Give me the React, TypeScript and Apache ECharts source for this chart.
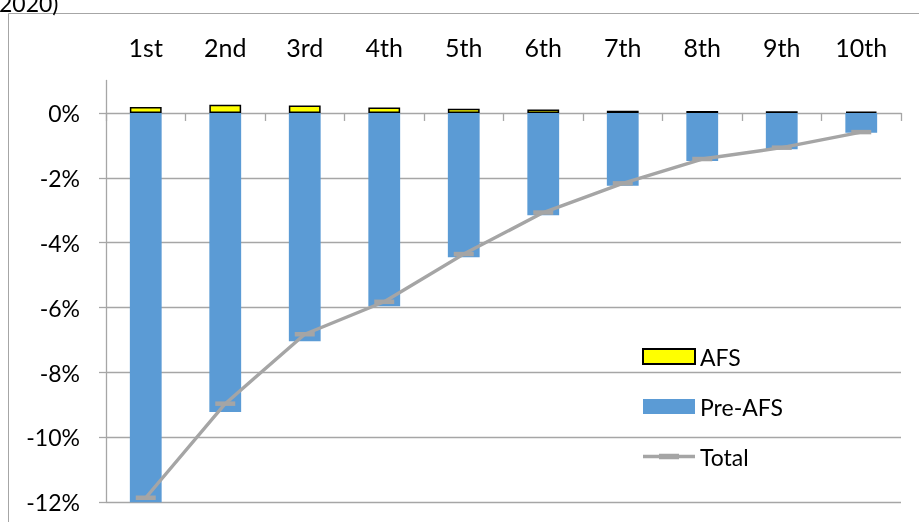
import React, { useEffect, useRef } from 'react';
import * as echarts from 'echarts';

const categories = ['1st', '2nd', '3rd', '4th', '5th', '6th', '7th', '8th', '9th', '10th'];
const afs = [0.18, 0.25, 0.23, 0.17, 0.13, 0.11, 0.07, 0.06, 0.05, 0.04];
const preAfs = [-12.0, -9.22, -7.04, -5.96, -4.45, -3.15, -2.24, -1.48, -1.12, -0.61];
const total = [-11.86, -8.96, -6.82, -5.82, -4.35, -3.07, -2.17, -1.42, -1.07, -0.59];
const yTicks = [-12, -10, -8, -6, -4, -2, 0];
const titleTail = '2020)';

export default function App() {
  const ref = useRef<HTMLDivElement>(null);
  useEffect(() => {
    const chart = echarts.init(ref.current!, null, { renderer: 'svg' });
    const font = 'Lato, "Open Sans", sans-serif';
    const gray = '#a6a6a6';
    chart.setOption({
      animation: false,
      textStyle: { fontFamily: font },
      grid: { left: 106, right: 18, top: 80.5, bottom: 19.7, containLabel: false },
      graphic: [
        {
          type: 'rect',
          silent: true,
          shape: { x: 8.5, y: 13.5, width: 1000, height: 1000 },
          style: { fill: 'none', stroke: gray, lineWidth: 1 },
        },
        {
          type: 'text',
          x: -1,
          y: 14,
          style: { text: titleTail, font: `23px ${font}`, fill: '#000', verticalAlign: 'bottom' },
        },
      ],
      legend: {
        orient: 'vertical',
        left: 637,
        top: 340,
        itemWidth: 52,
        itemHeight: 15,
        itemGap: 27,
        textStyle: { fontSize: 23, color: '#000', fontFamily: font },
        data: [
          { name: 'AFS', icon: 'rect' },
          { name: 'Pre-AFS', icon: 'rect' },
          {
            name: 'Total',
            icon: 'path://M0,6.3H52V9.7H0Z M16,5.3H36V10.7H16Z',
            itemStyle: { color: '#a5a5a5', borderWidth: 0 },
          },
        ],
      },
      xAxis: [
        {
          type: 'category',
          data: categories,
          position: 'top',
          axisLine: { show: false, onZero: false },
          axisTick: { show: false },
          axisLabel: { fontSize: 25, color: '#000', margin: 21, fontFamily: font },
        },
        {
          type: 'category',
          data: categories,
          position: 'bottom',
          axisLine: { show: true, onZero: true, onZeroAxisIndex: 0, lineStyle: { color: gray, width: 1.3 } },
          axisTick: { show: true, length: 8, lineStyle: { color: gray, width: 1.3 } },
          axisLabel: { show: false },
        },
      ],
      yAxis: {
        type: 'value',
        min: -12,
        max: 1,
        interval: 2,
        axisLine: { show: true, lineStyle: { color: gray, width: 1.3 } },
        axisTick: { show: true, length: 7, customValues: yTicks, lineStyle: { color: gray, width: 1.3 } },
        axisLabel: {
          fontSize: 23,
          color: '#000',
          margin: 26,
          fontFamily: font,
          customValues: yTicks,
          formatter: (v: number) => `${v}%`,
        },
        splitLine: { show: true, showMaxLine: false, lineStyle: { color: gray, width: 1.3 } },
      },
      series: [
        {
          name: 'Pre-AFS',
          type: 'bar',
          stack: 's',
          data: preAfs,
          barWidth: '40%',
          itemStyle: { color: '#5b9bd5' },
        },
        {
          name: 'AFS',
          type: 'bar',
          stack: 's',
          data: afs,
          barWidth: '40%',
          itemStyle: { color: '#ffff00', borderColor: '#000', borderWidth: 1.5 },
        },
        {
          name: 'Total',
          type: 'line',
          data: total,
          symbol: 'rect',
          symbolSize: [20, 4.5],
          lineStyle: { color: '#a5a5a5', width: 3.4 },
          itemStyle: { color: '#a5a5a5' },
          z: 5,
        },
      ],
    });
    return () => chart.dispose();
  }, []);
  return <div ref={ref} style={{ position: 'fixed', left: 0, top: 0, width: 919, height: 522 }} />;
}
